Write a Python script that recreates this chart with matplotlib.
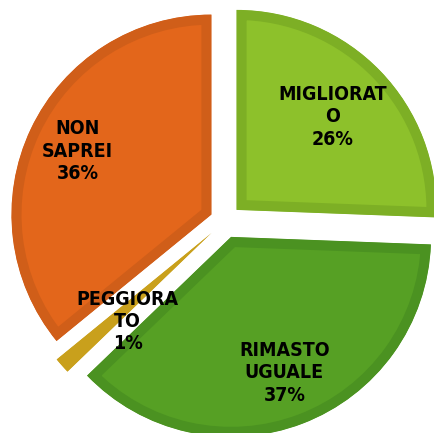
import matplotlib
matplotlib.use("Agg")
import matplotlib.pyplot as plt
import numpy as np

# Data (shares; labels show rounded percentages)
categories = ["MIGLIORAT\nO", "RIMASTO\nUGUALE", "PEGGIORA\nTO", "NON\nSAPREI"]
values = [25.6, 37.2, 1.3, 35.9]

# Style
fill_colors = ["#8DC12B", "#56A024", "#D1A91F", "#E3661B"]
edge_colors = ["#7DAF25", "#4B9221", "#C9A01C", "#D05E19"]
explode = [0.08, 0.085, 0.09, 0.075]
label_frac = [0.67, 0.73, 0.61, 0.74]
label_dtheta = [0, 0.5, 5, 0]

fig = plt.figure(figsize=(4.34, 4.33), dpi=100)
ax = fig.add_axes([0, 0, 1, 1])

wedges, _ = ax.pie(values, startangle=90, counterclock=False, explode=explode,
                   colors=fill_colors, radius=1.0, frame=True,
                   wedgeprops=dict(linewidth=14.5, joinstyle="miter"))
ax.set_xlim(-1.125, 1.045)
ax.set_ylim(-1.06, 1.105)
ax.set_aspect("auto")
ax.axis("off")

total = sum(values)
for w, ec, cat, v, f, dt in zip(wedges, edge_colors, categories, values,
                                label_frac, label_dtheta):
    w.set_edgecolor(ec)
    w.set_clip_on(True)
    w.set_clip_path(w)
    tm = np.deg2rad((w.theta1 + w.theta2) / 2 + dt)
    cx, cy = w.center
    x = cx + f * w.r * np.cos(tm)
    y = cy + f * w.r * np.sin(tm)
    ax.text(x, y, f"{cat}\n{round(100 * v / total)}%", ha="center", va="center",
            fontsize=14, fontweight="bold", family="DejaVu Sans",
            fontstretch="condensed", color="black", linespacing=1.22)

fig.savefig("out.png", dpi=100)
